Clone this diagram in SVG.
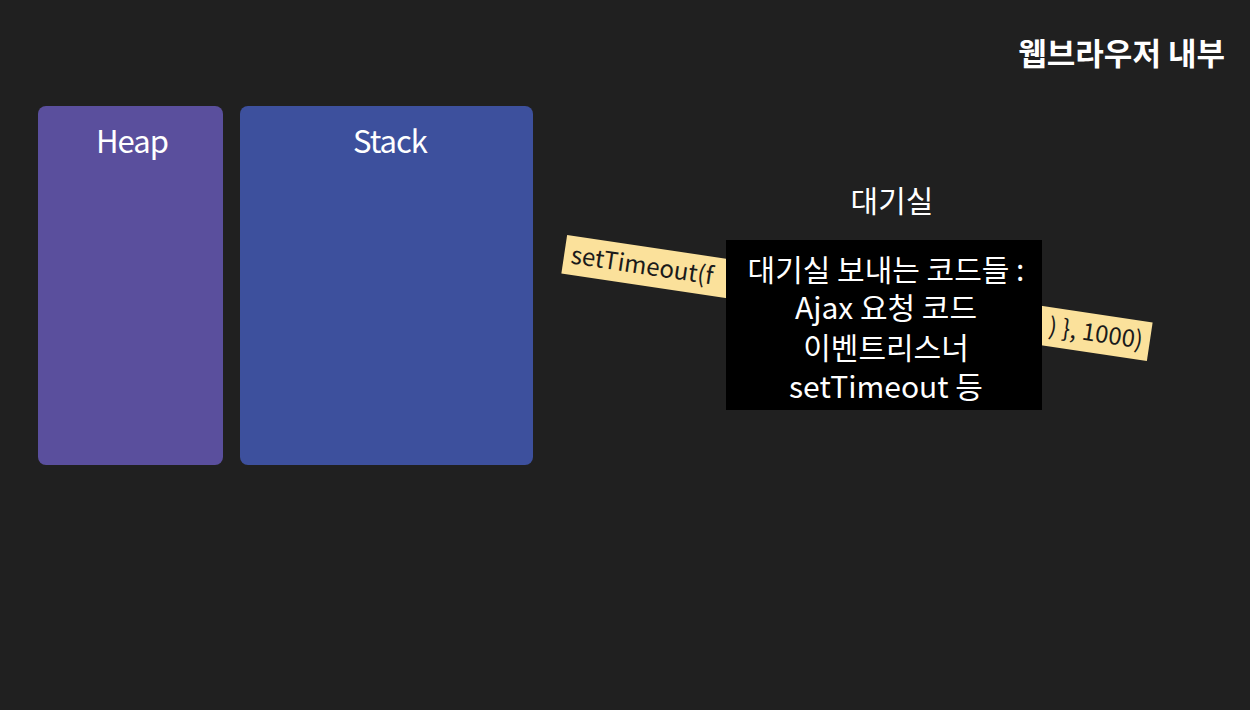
<svg xmlns="http://www.w3.org/2000/svg" width="1250" height="710" viewBox="0 0 1250 710">
<style>
.t{font-family:"Noto Sans CJK KR","Noto Sans",sans-serif;fill:#ffffff;text-anchor:middle}
.code{font-family:"Noto Sans CJK KR","Noto Sans",sans-serif;fill:#1a1a1a;font-size:24px}
</style>
<rect width="1250" height="710" fill="#202020"/>
<g id="title"><text class="t" x="1225" y="65" font-size="31" font-weight="bold" style="text-anchor:end">웹브라우저 내부</text></g>
<g id="heap">
<rect x="38" y="106" width="185" height="359" rx="8" fill="#5a4f9d"/>
<text class="t" x="132" y="153" font-size="31" letter-spacing="-1">Heap</text>
</g>
<g id="stack">
<rect x="240" y="106" width="293" height="359" rx="8" fill="#3d509d"/>
<text class="t" x="390" y="153" font-size="31" letter-spacing="-1">Stack</text>
</g>
<g id="waiting-room-label"><text class="t" x="892" y="212" font-size="30">대기실</text></g>
<g id="code-strip" transform="translate(857 298) rotate(8.5)">
<rect x="-296" y="-19.5" width="592" height="39" fill="#fbe19b"/>
<text class="code" x="-289" y="8">setTimeout(f</text>
<text class="code" x="289" y="8" text-anchor="end">) }, 1000)</text>
</g>
<g id="note">
<rect x="726" y="240" width="316" height="170" fill="#000000"/>
<text class="t" x="886" y="281" font-size="30">대기실 보내는 코드들 :</text>
<text class="t" x="886" y="319" font-size="30">Ajax 요청 코드</text>
<text class="t" x="886" y="359" font-size="30">이벤트리스너</text>
<text class="t" x="886" y="398" font-size="30">setTimeout 등</text>
</g>
<g id="connectors"></g>
</svg>
